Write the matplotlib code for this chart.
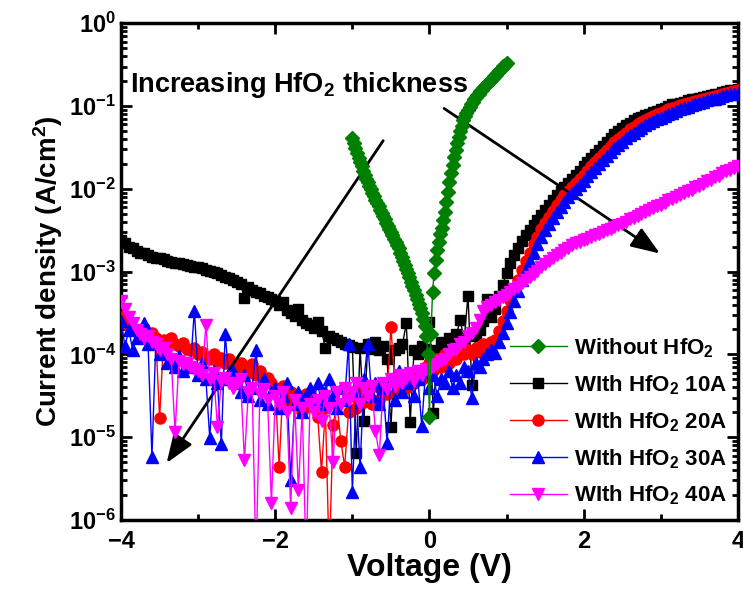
import numpy as np
import matplotlib
matplotlib.use("Agg")
import matplotlib.pyplot as plt
from matplotlib.ticker import FixedLocator, FixedFormatter, LogLocator, NullFormatter

plt.rcParams['font.family'] = ['Liberation Sans', 'DejaVu Sans']
plt.rcParams['font.weight'] = 'bold'
plt.rcParams['mathtext.fontset'] = 'custom'
plt.rcParams['mathtext.rm'] = 'Liberation Sans:bold'
plt.rcParams['mathtext.it'] = 'Liberation Sans:bold'
plt.rcParams['mathtext.bf'] = 'Liberation Sans:bold'
plt.rcParams['mathtext.default'] = 'bf'

# voltage sweep for HfO2 devices: -4 .. 4 V, 0.05 V step (161 points)
v_sweep = np.linspace(-4, 4, 161)
# reference device (no HfO2): -1 .. 1 V, 0.02 V step (101 points)
v_ref = np.linspace(-1, 1, 101)

# log10 of current density (A/cm^2)
log_j_ref = [
    -1.39, -1.45, -1.51, -1.57, -1.63, -1.68, -1.73, -1.78, -1.83, -1.88,
    -1.92, -1.96, -2.00, -2.05, -2.09, -2.13, -2.17, -2.21, -2.25, -2.29,
    -2.33, -2.37, -2.41, -2.45, -2.48, -2.52, -2.56, -2.60, -2.64, -2.68,
    -2.72, -2.77, -2.82, -2.87, -2.92, -2.97, -3.02, -3.07, -3.12, -3.17,
    -3.22, -3.28, -3.33, -3.39, -3.44, -3.50, -3.57, -3.66, -3.78, -4.00,
    -4.76,
    -3.75, -3.25, -3.02, -2.86, -2.74, -2.64, -2.55, -2.47, -2.38, -2.28,
    -2.16, -2.04, -1.92, -1.81, -1.71, -1.62, -1.53, -1.45, -1.37, -1.30,
    -1.24, -1.17, -1.12, -1.08, -1.05, -1.01, -0.98, -0.95, -0.92, -0.89,
    -0.87, -0.85, -0.82, -0.80, -0.78, -0.76, -0.74, -0.72, -0.70, -0.68,
    -0.66, -0.64, -0.62, -0.60, -0.58, -0.56, -0.54, -0.52, -0.50, -0.48,
]

# rows of 10 points = 0.5 V each, starting at -4 V
log_j_10a = [
    -2.62, -2.66, -2.70, -2.72, -2.75, -2.77, -2.78, -2.80, -2.82, -2.83,
    -2.84, -2.85, -2.87, -2.88, -2.89, -2.90, -2.91, -2.92, -2.93, -2.94,
    -2.95, -2.96, -2.98, -2.99, -3.01, -3.02, -3.04, -3.06, -3.08, -3.10,
    -3.13, -3.15, -3.32, -3.19, -3.22, -3.24, -3.26, -3.29, -3.31, -3.33,
    -3.36, -3.40, -3.37, -3.46, -3.50, -3.53, -3.45, -3.58, -3.62, -3.65,
    -3.68, -3.61, -3.72, -3.92, -3.78, -3.80, -3.83, -3.85, -3.87, -3.89,
    -3.91, -5.19, -3.92, -4.80, -3.88, -3.93, -3.85, -3.95, -3.90, -4.05,
    -4.88, -3.95, -3.92, -3.88, -3.62, -4.82, -3.95, -4.00, -3.90, -3.93,
    -3.61, -4.71, -3.95, -3.85, -3.90, -3.80, -3.86, -3.75, -3.59, -3.82,
    -3.29, -4.37, -3.78, -3.70, -3.60, -3.33, -3.55, -3.45, -3.30, -3.16,
    -3.02, -2.90, -2.80, -2.71, -2.63, -2.56, -2.50, -2.44, -2.38, -2.32,
    -2.26, -2.20, -2.14, -2.08, -2.03, -1.98, -1.93, -1.88, -1.83, -1.78,
    -1.73, -1.68, -1.63, -1.58, -1.53, -1.48, -1.43, -1.38, -1.34, -1.30,
    -1.26, -1.23, -1.20, -1.17, -1.15, -1.13, -1.11, -1.09, -1.07, -1.06,
    -1.04, -1.02, -1.00, -0.98, -0.97, -0.96, -0.95, -0.93, -0.92, -0.91,
    -0.90, -0.89, -0.88, -0.87, -0.86, -0.85, -0.83, -0.82, -0.81, -0.80,
    -0.79,
]

log_j_20a = [
    -3.55, -3.62, -3.66, -3.70, -3.72, -3.75, -3.68, -3.78, -3.74, -3.80,
    -4.77, -3.82, -3.85, -3.80, -3.88, -3.90, -3.86, -3.93, -3.95, -3.92,
    -4.00, -3.97, -4.03, -4.05, -4.00, -4.08, -4.04, -4.10, -4.06, -4.12,
    -4.15, -4.10, -4.18, -4.22, -4.12, -4.25, -4.20, -4.30, -4.28, -4.35,
    -4.40, -5.36, -4.38, -4.55, -4.45, -4.60, -4.50, -4.70, -4.48, -4.62,
    -4.55, -4.75, -5.42, -4.65, -6.50, -4.85, -4.60, -5.04, -5.36, -4.70,
    -4.50, -4.65, -4.40, -4.58, -4.45, -4.60, -4.38, -4.55, -4.42, -4.48,
    -3.67, -4.35, -4.45, -4.30, -4.40, -4.25, -4.35, -4.20, -4.30, -4.15,
    -4.10, -4.20, -4.05, -4.15, -4.00, -4.10, -3.98, -4.05, -3.95, -4.00,
    -3.95, -4.00, -3.92, -3.97, -3.88, -3.90, -3.85, -3.82, -3.72, -3.60,
    -3.47, -3.34, -3.22, -3.10, -2.98, -2.87, -2.77, -2.67, -2.58, -2.49,
    -2.41, -2.34, -2.27, -2.20, -2.14, -2.08, -2.03, -1.98, -1.93, -1.88,
    -1.83, -1.78, -1.73, -1.68, -1.63, -1.58, -1.53, -1.48, -1.44, -1.40,
    -1.36, -1.32, -1.28, -1.25, -1.22, -1.19, -1.17, -1.14, -1.12, -1.10,
    -1.08, -1.06, -1.04, -1.02, -1.01, -0.99, -0.98, -0.96, -0.95, -0.94,
    -0.93, -0.91, -0.90, -0.89, -0.88, -0.87, -0.85, -0.84, -0.83, -0.82,
    -0.81,
]

log_j_30a = [
    -3.60, -3.90, -3.70, -3.95, -3.80, -3.72, -3.62, -3.88, -5.24, -3.85,
    -4.00, -3.95, -4.10, -4.05, -4.15, -4.02, -4.20, -4.10, -4.15, -3.47,
    -4.25, -4.10, -4.30, -5.01, -4.20, -4.35, -5.08, -3.75, -4.30, -4.20,
    -4.35, -4.45, -4.25, -4.50, -4.40, -3.95, -4.55, -4.30, -4.60, -4.45,
    -4.40, -4.65, -4.50, -4.35, -5.52, -4.60, -4.45, -4.70, -4.50, -4.40,
    -4.55, -4.35, -4.60, -4.45, -4.30, -4.50, -4.65, -4.40, -4.55, -3.87,
    -5.66, -4.45, -5.36, -4.30, -3.87, -4.50, -4.35, -4.60, -4.40, -5.07,
    -4.30, -4.55, -4.20, -4.45, -4.35, -4.25, -4.50, -4.30, -4.86, -4.20,
    -4.40, -4.25, -4.50, -4.30, -4.35, -4.20, -4.40, -4.25, -4.35, -4.15,
    -4.20, -4.53, -4.10, -4.15, -4.05, -4.00, -3.95, -3.98, -3.85, -3.74,
    -3.62, -3.49, -3.36, -3.23, -3.10, -2.98, -2.87, -2.77, -2.67, -2.58,
    -2.50, -2.42, -2.35, -2.28, -2.22, -2.16, -2.10, -2.05, -2.00, -1.95,
    -1.90, -1.85, -1.80, -1.75, -1.70, -1.65, -1.60, -1.55, -1.51, -1.47,
    -1.43, -1.39, -1.35, -1.32, -1.29, -1.26, -1.23, -1.20, -1.18, -1.16,
    -1.14, -1.12, -1.10, -1.08, -1.06, -1.04, -1.02, -1.01, -0.99, -0.98,
    -0.96, -0.95, -0.93, -0.92, -0.91, -0.90, -0.88, -0.87, -0.86, -0.85,
    -0.84,
]

log_j_40a = [
    -3.35, -3.45, -3.55, -3.62, -3.70, -3.75, -3.80, -3.78, -3.85, -3.88,
    -3.95, -3.92, -4.00, -4.05, -4.94, -4.08, -4.12, -4.10, -4.15, -4.18,
    -4.20, -4.25, -3.65, -4.30, -4.22, -4.88, -4.32, -4.28, -4.35, -4.40,
    -4.35, -4.30, -5.28, -4.45, -4.40, -6.50, -4.48, -4.42, -4.55, -5.80,
    -4.50, -4.60, -4.45, -4.70, -5.85, -4.55, -5.64, -4.65, -6.50, -4.60,
    -4.70, -4.55, -4.80, -4.50, -4.65, -5.30, -4.45, -4.60, -4.40, -4.55,
    -4.45, -4.35, -4.60, -4.40, -4.50, -4.38, -4.92, -5.22, -4.35, -4.42,
    -4.30, -4.38, -4.25, -4.35, -4.28, -4.22, -4.32, -4.20, -4.25, -4.18,
    -4.20, -4.15, -4.12, -4.08, -4.05, -4.00, -3.95, -3.93, -3.88, -3.85,
    -3.78, -3.74, -3.68, -3.58, -3.47, -3.43, -3.40, -3.37, -3.34, -3.31,
    -3.28, -3.25, -3.21, -3.18, -3.14, -3.10, -3.07, -3.03, -2.99, -2.95,
    -2.91, -2.87, -2.83, -2.80, -2.77, -2.74, -2.71, -2.68, -2.66, -2.64,
    -2.62, -2.60, -2.58, -2.56, -2.54, -2.52, -2.50, -2.48, -2.46, -2.44,
    -2.42, -2.40, -2.37, -2.35, -2.33, -2.30, -2.28, -2.26, -2.23, -2.21,
    -2.19, -2.17, -2.14, -2.12, -2.10, -2.08, -2.05, -2.03, -2.01, -1.98,
    -1.96, -1.94, -1.91, -1.89, -1.86, -1.84, -1.81, -1.79, -1.77, -1.75,
    -1.73,
]

labels = ['Without HfO$_2$', 'WIth HfO$_2$ 10A', 'WIth HfO$_2$ 20A',
          'WIth HfO$_2$ 30A', 'WIth HfO$_2$ 40A']

fig = plt.figure(figsize=(7.43, 5.97), dpi=100)
ax = fig.add_axes([0.163, 0.129, 0.830, 0.832])

h10, = ax.plot(v_sweep, 10 ** np.array(log_j_10a), '-s', color='black', ms=6.5, lw=1, zorder=2)
h20, = ax.plot(v_sweep, 10 ** np.array(log_j_20a), '-o', color='red', ms=8, lw=1, zorder=3)
h30, = ax.plot(v_sweep, 10 ** np.array(log_j_30a), '-^', color='blue', ms=9, lw=1, zorder=4)
h40, = ax.plot(v_sweep, 10 ** np.array(log_j_40a), '-v', color='magenta', ms=9, lw=1, zorder=5)
h0, = ax.plot(v_ref, 10 ** np.array(log_j_ref), '-D', color='green', ms=7, lw=1, zorder=6)

ax.set_yscale('log')
ax.set_xlim(-4, 4)
ax.set_ylim(1e-6, 1)

ax.xaxis.set_major_locator(FixedLocator([-4, -2, 0, 2, 4]))
ax.xaxis.set_minor_locator(FixedLocator([-3, -1, 1, 3]))
yt = [1e-6, 1e-5, 1e-4, 1e-3, 1e-2, 1e-1, 1e0]
ax.yaxis.set_major_locator(FixedLocator(yt))
ax.yaxis.set_major_formatter(FixedFormatter(
    [r'$10^{-6}$', r'$10^{-5}$', r'$10^{-4}$', r'$10^{-3}$',
     r'$10^{-2}$', r'$10^{-1}$', r'$10^{0}$']))
ax.yaxis.set_minor_locator(LogLocator(base=10, subs=np.arange(2, 10), numticks=20))
ax.yaxis.set_minor_formatter(NullFormatter())

ax.tick_params(which='both', direction='in', top=True, right=True, width=2)
ax.tick_params(which='major', length=8, labelsize=17)
ax.tick_params(which='minor', length=4)
ax.tick_params(axis='x', which='major', pad=7)
for s in ax.spines.values():
    s.set_linewidth(2.5)

ax.set_xlabel('Voltage (V)', fontsize=23, fontweight='bold', labelpad=0)
ax.set_ylabel('Current density (A/cm$^2$)', fontsize=20, fontweight='bold', labelpad=3)

ax.text(-3.88, 10 ** -0.75, 'Increasing HfO$_2$ thickness', fontsize=19.5,
        fontweight='bold', va='center', ha='left')
arrow = dict(arrowstyle='-|>,head_length=0.8,head_width=0.3', lw=2,
             color='black', mutation_scale=22)
ax.annotate('', xy=(-3.43, 10 ** -5.34), xytext=(-0.58, 10 ** -1.39), arrowprops=arrow)
ax.annotate('', xy=(3.02, 10 ** -2.80), xytext=(0.16, 10 ** -1.01), arrowprops=arrow)

ax.legend([h0, h10, h20, h30, h40], labels, loc='lower right',
          bbox_to_anchor=(1.015, -0.015), frameon=False, fontsize=16,
          handlelength=2.6, labelspacing=0.6, handletextpad=0.3)

fig.savefig('out.png', dpi=100)
